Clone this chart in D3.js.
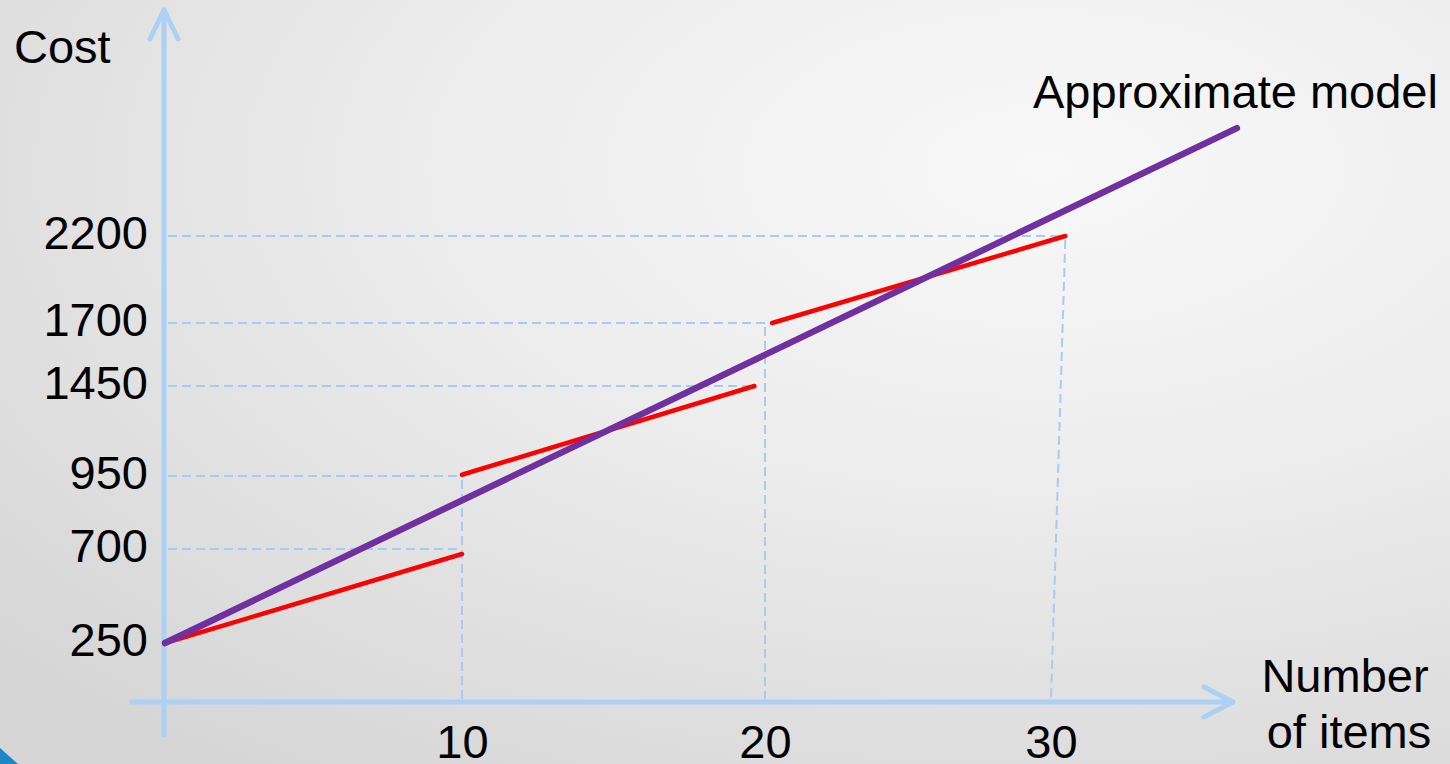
<!DOCTYPE html>
<html>
<head>
<meta charset="utf-8">
<script src="https://cdn.jsdelivr.net/npm/d3@7"></script>
<style>
  html, body { margin: 0; padding: 0; overflow: hidden; }
  svg text { font-family: "Liberation Sans", Arial, sans-serif; fill: #000; }
</style>
</head>
<body>
<div id="chart"></div>
<script>
// tick values on both axes
const xTicks = [10, 20, 30];
const yTicks = [250, 700, 950, 1450, 1700, 2200];

// the schematic's y axis is not evenly spaced: value -> pixel stops
const yStops = [250, 700, 950, 1450, 1700, 2200];
const xStops = [0, 10, 20, 30];

// piecewise (actual) cost, one entry per segment
const segStart = [[0, 250], [10, 957], [20.25, 1700]];
const segEnd   = [[10, 676], [19.65, 1450], [30.5, 2200]];

// approximate model line
const modelLine = [[0, 250], [36.5, 2820]];

// guide lines: horizontal [x, y], vertical [xTop, yTop, xBottom]
const hGuides = [[10, 700], [10, 950], [19.65, 1450], [20, 1700], [30.5, 2200]];
const vGuides = [[10, 950, 10], [20, 1700, 20], [30.5, 2200, 30]];

const W = 1450, H = 764;
const axisColor = "#acd1f4";
const guideColor = "#a8ccef";

const svg = d3.select("#chart").append("svg")
  .attr("width", W).attr("height", H);

// background
const defs = svg.append("defs");
const grad = defs.append("radialGradient")
  .attr("id", "bg").attr("cx", "72%").attr("cy", "22%").attr("r", "95%");
grad.append("stop").attr("offset", "0%").attr("stop-color", "#f8f8f8");
grad.append("stop").attr("offset", "45%").attr("stop-color", "#ececec");
grad.append("stop").attr("offset", "100%").attr("stop-color", "#d6d6d6");
svg.append("rect").attr("width", W).attr("height", H).attr("fill", "url(#bg)");

// corner accent
svg.append("path").attr("d", "M0,748 L18,764 L0,764 Z").attr("fill", "#1e86c6");

// scales
const x = d3.scaleLinear().domain(xStops).range([165, 462, 765, 1051]);
const y = d3.scaleLinear().domain(yStops).range([643, 549, 476, 386, 323, 236]);
const x0 = 164, y0 = 702;

// dashed guides
svg.selectAll(".hguide").data(hGuides).enter().append("line")
  .attr("class", "hguide")
  .attr("x1", x0 + 4).attr("x2", d => x(d[0]))
  .attr("y1", d => y(d[1])).attr("y2", d => y(d[1]))
  .attr("stroke", guideColor).attr("stroke-width", 2)
  .attr("stroke-dasharray", "9,5");

svg.selectAll(".vguide").data(vGuides).enter().append("line")
  .attr("class", "vguide")
  .attr("x1", d => x(d[0])).attr("y1", d => y(d[1]) + 4)
  .attr("x2", d => x(d[2])).attr("y2", y0 - 3)
  .attr("stroke", guideColor).attr("stroke-width", 2)
  .attr("stroke-dasharray", "9,5");

// axes lines with arrow heads
const axisG = svg.append("g")
  .attr("stroke", axisColor).attr("stroke-width", 5)
  .attr("stroke-linecap", "round").attr("fill", "none");
axisG.append("line").attr("x1", x0).attr("y1", 735).attr("x2", x0).attr("y2", 10);
axisG.append("polyline").attr("points", `${x0 - 14},39 ${x0},10 ${x0 + 14},39`)
  .attr("stroke-linejoin", "round");
axisG.append("line").attr("x1", 132).attr("y1", y0).attr("x2", 1233).attr("y2", y0);
axisG.append("polyline").attr("points", `1204,${y0 - 15} 1233,${y0} 1204,${y0 + 15}`)
  .attr("stroke-linejoin", "round");

// tick labels via d3 axes
const yAxis = d3.axisLeft(y).tickValues(yTicks).tickSize(0).tickPadding(16)
  .tickFormat(d3.format("d"));
svg.append("g").attr("transform", `translate(${x0},0)`).call(yAxis)
  .call(g => g.select(".domain").remove())
  .selectAll("text")
  .attr("font-family", "'Liberation Sans', Arial, sans-serif")
  .attr("font-size", 47).attr("fill", "#000")
  .attr("dy", "0.27em");

const xAxis = d3.axisBottom(x).tickValues(xTicks).tickSize(0).tickPadding(23)
  .tickFormat(d3.format("d"));
svg.append("g").attr("transform", `translate(0,${y0})`).call(xAxis)
  .call(g => g.select(".domain").remove())
  .selectAll("text")
  .attr("font-family", "'Liberation Sans', Arial, sans-serif")
  .attr("font-size", 47).attr("fill", "#000");

// red piecewise segments
svg.selectAll(".seg").data(d3.zip(segStart, segEnd)).enter().append("line")
  .attr("class", "seg")
  .attr("x1", d => x(d[0][0])).attr("y1", d => y(d[0][1]))
  .attr("x2", d => x(d[1][0])).attr("y2", d => y(d[1][1]))
  .attr("stroke", "#ff0000").attr("stroke-width", 4.5)
  .attr("stroke-linecap", "round");

// purple model line
svg.append("path").datum(modelLine)
  .attr("d", d3.line().x(d => x(d[0])).y(d => y(d[1])))
  .attr("stroke", "#7030a0").attr("stroke-width", 6.5)
  .attr("stroke-linecap", "round").attr("fill", "none");

// labels
svg.append("text").attr("x", 14).attr("y", 63).attr("font-size", 47).text("Cost");
svg.append("text").attr("x", 1033).attr("y", 108).attr("font-size", 47).text("Approximate model");
const xl = svg.append("text").attr("x", 1345).attr("y", 692)
  .attr("font-size", 47).attr("text-anchor", "middle");
xl.append("tspan").attr("x", 1345).text("Number");
xl.append("tspan").attr("x", 1349).attr("dy", 56).text("of items");
</script>
</body>
</html>
